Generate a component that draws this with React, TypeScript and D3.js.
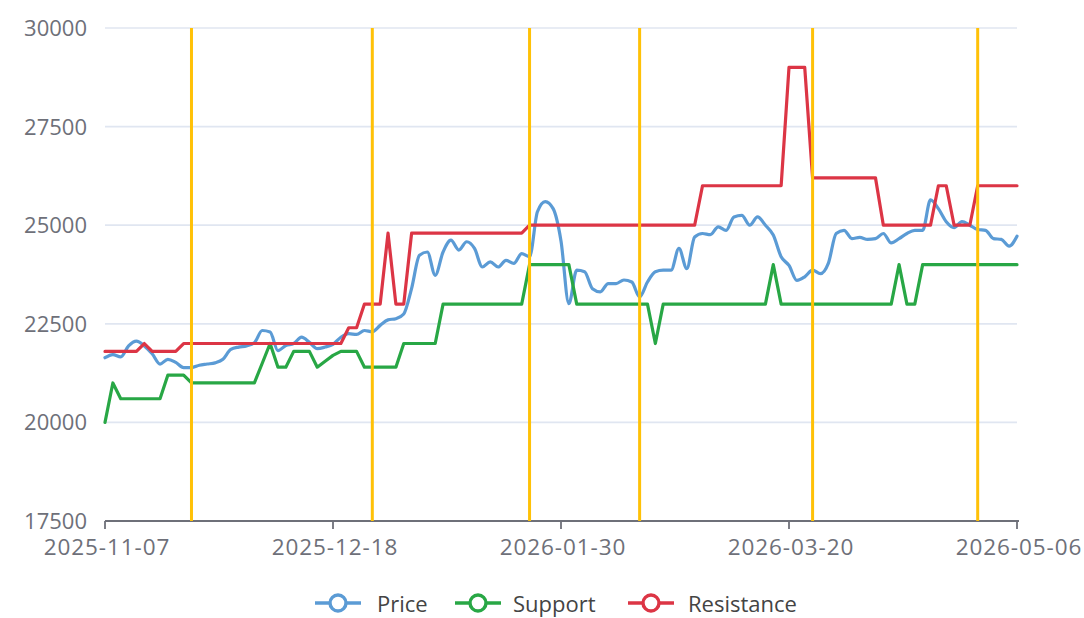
import React from "react";
import * as d3 from "d3";

// ---- data ----
const startDate = "2025-11-07";
const endDate = "2026-05-06";
const holidays = [
  "2026-01-01", "2026-01-02",
  "2026-02-16", "2026-02-17", "2026-02-18", "2026-02-19", "2026-02-20", "2026-02-23",
  "2026-04-06",
  "2026-05-01", "2026-05-04", "2026-05-05",
];

const xTickLabels = ["2025-11-07", "2025-12-18", "2026-01-30", "2026-03-20", "2026-05-06"];
const yTicks = [17500, 20000, 22500, 25000, 27500, 30000];
const markDates = ["2025-11-24", "2025-12-25", "2026-01-26", "2026-02-13", "2026-03-25", "2026-04-24"];

const price = [
  21640, 21720, 21660, 21940, 22060, 21940, 21740, 21480, 21600, 21520,
  21390, 21390, 21450, 21480, 21510, 21600, 21850, 21910, 21940, 22020,
  22330, 22290, 21820, 21950, 22000, 22160, 22030, 21870, 21910, 21980,
  22160, 22250, 22230, 22330, 22300, 22460, 22600, 22630, 22750, 23400,
  24240, 24320, 23730, 24320, 24620, 24370, 24580, 24410, 23940, 24070,
  23940, 24110, 24030, 24280, 24200, 25340, 25600, 25420, 24600, 23010,
  23860, 23820, 23390, 23310, 23520, 23520, 23610, 23560, 23180, 23560,
  23820, 23860, 23860, 24410, 23900, 24700, 24790, 24760, 24960, 24870,
  25210, 25250, 25000, 25210, 25000, 24750, 24200, 23980, 23600, 23690,
  23860, 23770, 24030, 24790, 24870, 24660, 24690, 24640, 24660, 24790,
  24550, 24660, 24790, 24870, 24870, 25640, 25420, 25090, 24940, 25090,
  25000, 24890, 24870, 24660, 24640, 24470, 24720,
];

const support = [
  20000, 21000, 20600, 20600, 20600, 20600, 20600, 20600, 21200, 21200,
  21200, 21000, 21000, 21000, 21000, 21000, 21000, 21000, 21000, 21000,
  21500, 22000, 21400, 21400, 21800, 21800, 21800, 21400, 21550, 21700,
  21800, 21800, 21800, 21400, 21400, 21400, 21400, 21400, 22000, 22000,
  22000, 22000, 22000, 23000, 23000, 23000, 23000, 23000, 23000, 23000,
  23000, 23000, 23000, 23000, 24000, 24000, 24000, 24000, 24000, 24000,
  23000, 23000, 23000, 23000, 23000, 23000, 23000, 23000, 23000, 23000,
  22000, 23000, 23000, 23000, 23000, 23000, 23000, 23000, 23000, 23000,
  23000, 23000, 23000, 23000, 23000, 24000, 23000, 23000, 23000, 23000,
  23000, 23000, 23000, 23000, 23000, 23000, 23000, 23000, 23000, 23000,
  23000, 24000, 23000, 23000, 24000, 24000, 24000, 24000, 24000, 24000,
  24000, 24000, 24000, 24000, 24000, 24000, 24000,
];

const resistance = [
  21800, 21800, 21800, 21800, 21800, 22000, 21800, 21800, 21800, 21800,
  22000, 22000, 22000, 22000, 22000, 22000, 22000, 22000, 22000, 22000,
  22000, 22000, 22000, 22000, 22000, 22000, 22000, 22000, 22000, 22000,
  22000, 22400, 22400, 23000, 23000, 23000, 24800, 23000, 23000, 24800,
  24800, 24800, 24800, 24800, 24800, 24800, 24800, 24800, 24800, 24800,
  24800, 24800, 24800, 24800, 25000, 25000, 25000, 25000, 25000, 25000,
  25000, 25000, 25000, 25000, 25000, 25000, 25000, 25000, 25000, 25000,
  25000, 25000, 25000, 25000, 25000, 25000, 26000, 26000, 26000, 26000,
  26000, 26000, 26000, 26000, 26000, 26000, 26000, 29000, 29000, 29000,
  26200, 26200, 26200, 26200, 26200, 26200, 26200, 26200, 26200, 25000,
  25000, 25000, 25000, 25000, 25000, 25000, 26000, 26000, 25000, 25000,
  25000, 26000, 26000, 26000, 26000, 26000, 26000,
];

const seriesNames = ["Price", "Support", "Resistance"];
const seriesColors = ["#5b9bd5", "#28a745", "#dc3545"];
const markColor = "#ffc107";

// trading-day categories (weekdays minus exchange holidays)
function tradingDays(): string[] {
  const fmt = d3.utcFormat("%Y-%m-%d");
  const days = d3.utcDay.range(
    new Date(startDate + "T00:00:00Z"),
    d3.utcDay.offset(new Date(endDate + "T00:00:00Z"), 1)
  );
  return days
    .filter((d) => d.getUTCDay() !== 0 && d.getUTCDay() !== 6)
    .map((d) => fmt(d))
    .filter((s) => !holidays.includes(s));
}

const W = 1084;
const H = 618;
const FONT = "'Open Sans', 'Noto Sans', sans-serif";

export default function App() {
  const dates = tradingDays();
  const x = d3.scalePoint<string>().domain(dates).range([105, 1017]);
  const y = d3.scaleLinear().domain([17500, 30000]).range([521, 28]);

  const mk = (vals: number[], smooth: boolean) =>
    d3
      .line<number>()
      .x((_, i) => x(dates[i]) as number)
      .y((v) => y(v))
      .curve(smooth ? d3.curveMonotoneX : d3.curveLinear)(vals) as string;

  const seriesData = [price, support, resistance];

  // legend layout
  const legendY = 603;
  const legendItems = [
    { name: seriesNames[0], color: seriesColors[0], x: 315, tx: 377 },
    { name: seriesNames[1], color: seriesColors[1], x: 455, tx: 513 },
    { name: seriesNames[2], color: seriesColors[2], x: 628, tx: 688 },
  ];

  const [x0, x1] = x.range();

  return (
    <svg
      width={W}
      height={H}
      style={{ position: "absolute", left: 0, top: 0, background: "#fff" }}
      fontFamily={FONT}
    >
      {/* grid */}
      {yTicks.map((t) =>
        t === 17500 ? null : (
          <line key={"g" + t} x1={x0} x2={x1} y1={y(t)} y2={y(t)} stroke="#E0E6F1" strokeWidth={1.7} />
        )
      )}
      {/* y labels */}
      {yTicks.map((t) => (
        <text
          key={"yl" + t}
          x={87}
          y={y(t) - 1}
          textAnchor="end"
          dominantBaseline="central"
          fontSize={22}
          fill="#6E7079"
        >
          {t}
        </text>
      ))}
      {/* x axis */}
      <line x1={x0} x2={x1 + 2} y1={y(17500)} y2={y(17500)} stroke="#6E7079" strokeWidth={1.8} />
      {xTickLabels.map((d) => (
        <g key={"xt" + d}>
          <line x1={x(d)} x2={x(d)} y1={y(17500)} y2={y(17500) + 8} stroke="#6E7079" strokeWidth={1.8} />
          <text
            x={(x(d) as number) + 2}
            y={y(17500) + 25}
            textAnchor="middle"
            dominantBaseline="central"
            fontSize={22.5}
            fill="#6E7079"
            letterSpacing={0.9}
          >
            {d}
          </text>
        </g>
      ))}
      {/* series */}
      {seriesData.map((vals, i) => (
        <path
          key={"s" + i}
          d={mk(vals, i === 0)}
          fill="none"
          stroke={seriesColors[i]}
          strokeWidth={3.2}
          strokeLinejoin="round"
          strokeLinecap="round"
        />
      ))}
      {/* mark lines */}
      {markDates.map((d) => (
        <line
          key={"m" + d}
          x1={x(d)}
          x2={x(d)}
          y1={y(30000)}
          y2={y(17500)}
          stroke={markColor}
          strokeWidth={3}
        />
      ))}
      {/* legend */}
      {legendItems.map((it) => (
        <g key={"lg" + it.name}>
          <line x1={it.x} x2={it.x + 46} y1={legendY} y2={legendY} stroke={it.color} strokeWidth={3.4} />
          <circle cx={it.x + 23} cy={legendY} r={8} fill="#fff" stroke={it.color} strokeWidth={3.4} />
          <text x={it.tx} y={legendY} dominantBaseline="central" fontSize={22} fill="#444">
            {it.name}
          </text>
        </g>
      ))}
    </svg>
  );
}
